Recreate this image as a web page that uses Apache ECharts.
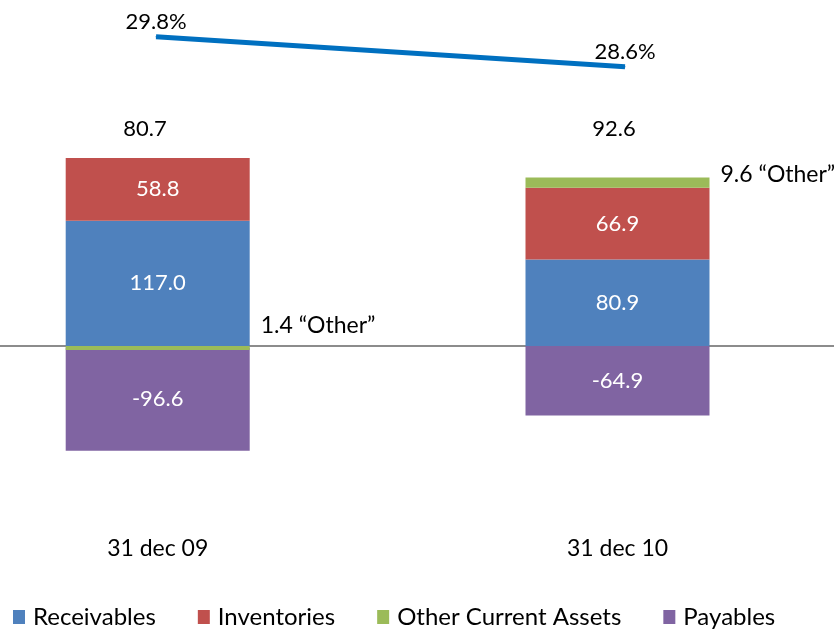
<!DOCTYPE html>
<html>
<head>
<meta charset="utf-8">
<script src="https://cdn.jsdelivr.net/npm/echarts@6/dist/echarts.min.js"></script>
<style>
html,body{margin:0;padding:0;background:#fff;}
#chart{width:834px;height:631px;}
</style>
</head>
<body>
<div id="chart"></div>
<script>
// ---- data ----
var categories = ['31 dec 09', '31 dec 10'];
var receivables = [117.0, 80.9];
var inventories = [58.8, 66.9];
// "Other" as drawn: below zero in 2009, on top of the stack in 2010
var otherAssets = [-1.4, 9.6];
var payables = [-96.6, -64.9];
var totals = [80.7, 92.6];
var ratioPct = [29.8, 28.6];
var legendNames = ['Receivables', 'Inventories', 'Other Current Assets', 'Payables'];

var FONT = 'Lato';
var colors = {rec: '#4F81BD', inv: '#C0504D', oth: '#9BBB59', pay: '#8064A2', line: '#0070C0'};

var chart = echarts.init(document.getElementById('chart'), null, {renderer: 'canvas'});

function inLabel() {
  return {show: true, position: 'inside', color: '#fff', fontFamily: FONT, fontSize: 22,
    formatter: function (p) { return p.value.toFixed(1); }};
}

var otherLabelOffsets = [[0, -22], [0, -8]];

var option = {
  backgroundColor: '#fff',
  animation: false,
  textStyle: {fontFamily: FONT},
  grid: [
    {left: 157.7, width: 459.8, top: 78.5, height: 428},
    {left: 156, width: 469, top: 6.7, height: 150},
    {left: 0, right: 0, top: 78.5, height: 428}
  ],
  xAxis: [
    {type: 'category', gridIndex: 0, data: categories, boundaryGap: false,
     axisLine: {show: false, onZero: false}, axisTick: {show: false}, splitLine: {show: false},
     axisLabel: {color: '#000', fontFamily: FONT, fontSize: 23, margin: 31}},
    {type: 'category', gridIndex: 1, data: categories, boundaryGap: false,
     axisLine: {show: false, onZero: false}, axisTick: {show: false}, axisLabel: {show: false}, splitLine: {show: false}},
    {type: 'category', gridIndex: 1, position: 'bottom', boundaryGap: false,
     data: totals.map(function (v) { return v.toFixed(1); }),
     axisLine: {show: false, onZero: false}, axisTick: {show: false}, splitLine: {show: false},
     axisLabel: {inside: true, margin: 17, color: '#000', fontFamily: FONT, fontSize: 22, padding: [0, 22, 0, 0]}},
    {type: 'category', gridIndex: 2, data: categories,
     axisLine: {show: true, onZero: true, lineStyle: {color: '#8c8c8c', width: 2}},
     axisTick: {show: false}, axisLabel: {show: false}, splitLine: {show: false}}
  ],
  yAxis: [
    {type: 'value', gridIndex: 0, min: -150, max: 250, show: false, splitLine: {show: false}},
    {type: 'value', gridIndex: 1, min: 25, max: 31, show: false, splitLine: {show: false}},
    {type: 'value', gridIndex: 2, min: -150, max: 250, axisLine: {show: false}, axisTick: {show: false},
     axisLabel: {show: false}, splitLine: {show: false}}
  ],
  legend: {
    data: legendNames,
    left: 8, top: 600,
    icon: 'rect', itemWidth: 12, itemHeight: 14, itemGap: 42,
    textStyle: {color: '#000', fontFamily: FONT, fontSize: 24, padding: [0, 0, 0, 3]}
  },
  series: [
    {name: 'Receivables', type: 'bar', stack: 'nwc', xAxisIndex: 0, yAxisIndex: 0, clip: false,
     barWidth: 184, data: receivables, itemStyle: {color: colors.rec}, label: inLabel()},
    {name: 'Inventories', type: 'bar', stack: 'nwc', xAxisIndex: 0, yAxisIndex: 0, clip: false,
     data: inventories, itemStyle: {color: colors.inv}, label: inLabel()},
    {name: 'Other Current Assets', type: 'bar', stack: 'nwc', xAxisIndex: 0, yAxisIndex: 0, z: 3, clip: false,
     barMinHeight: 4,
     data: otherAssets.map(function (v, i) {
       return {value: v, label: {offset: otherLabelOffsets[i]}};
     }),
     itemStyle: {color: colors.oth},
     label: {show: true, position: 'right', distance: 11, color: '#000', fontFamily: FONT, fontSize: 23,
       formatter: function (p) { return Math.abs(p.value).toFixed(1) + ' \u201COther\u201D'; }}},
    {name: 'Payables', type: 'bar', stack: 'nwc', xAxisIndex: 0, yAxisIndex: 0, clip: false,
     data: payables, itemStyle: {color: colors.pay}, label: inLabel()},
    {name: 'ratio', type: 'line', xAxisIndex: 1, yAxisIndex: 1, clip: false,
     data: ratioPct, symbol: 'circle', symbolSize: 1,
     itemStyle: {color: colors.line}, lineStyle: {color: colors.line, width: 5},
     label: {show: true, position: 'top', distance: 3, color: '#000', fontFamily: FONT, fontSize: 22,
       formatter: function (p) { return p.value.toFixed(1) + '%'; }}}
  ]
};
chart.setOption(option);
</script>
</body>
</html>
